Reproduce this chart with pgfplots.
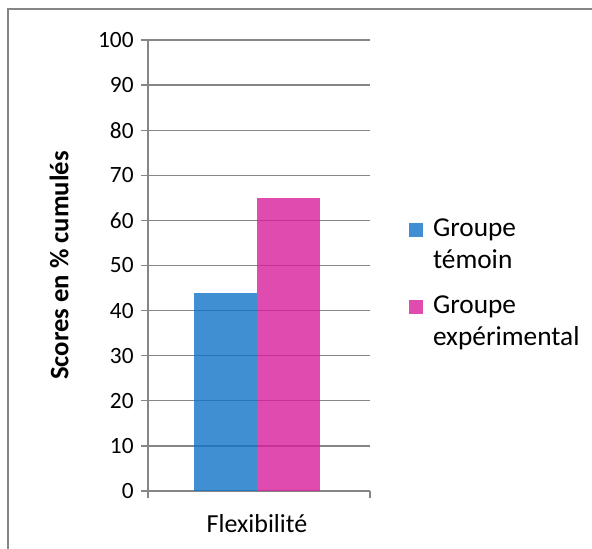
\documentclass[border=0pt]{standalone}
\usepackage{pgfplots}
\pgfplotsset{compat=1.18}
\usepackage{fontspec}
\setmainfont{Carlito}
\definecolor{gridgray}{RGB}{134,134,134}
\definecolor{barblue}{RGB}{15,115,199}
\definecolor{barpink}{RGB}{216,30,156}
\begin{document}
\begin{tikzpicture}
\useasboundingbox (0,0) rectangle (444pt,411.75pt);
\draw[gridgray, line width=1.1pt] (6pt,-10pt) -- (6pt,405pt) -- (460pt,405pt);
\begin{axis}[
  at={(111pt,43.5pt)}, anchor=south west,
  scale only axis, width=166.5pt, height=338.25pt,
  ybar=0pt, bar width=47.25pt,
  xmin=-0.982, xmax=1.018,
  ymin=0, ymax=100,
  ytick={0,10,...,100},
  xtick={-0.982,1.018}, xticklabels={},
  extra x ticks={0}, extra x tick labels={Flexibilité},
  extra x tick style={major tick length=0pt, grid=none,
     tick label style={anchor=base, yshift=-31pt, font=\fontsize{19.5}{22}\selectfont}},
  axis x line=bottom, axis y line=left,
  axis line style={gridgray, line width=1pt, -},
  tick style={gridgray, line width=1pt},
  tick align=outside, major tick length=5.25pt,
  ymajorgrids, grid style={gridgray, line width=1pt},
  /pgf/number format/assume math mode=true,
  tick label style={font=\fontsize{17.5}{20}\selectfont},
  yticklabel style={xshift=-2pt},
  ylabel={\bfseries Scores en \% cumulés},
  ylabel style={font=\fontsize{20}{22}\selectfont, at={(axis description cs:-0.40,0.5)}, anchor=center},
  legend style={draw=none, fill=none, at={(1.176,0.61)}, anchor=north west,
     inner sep=0pt, column sep=5.25pt, row sep=39pt,
     font=\fontsize{20.5}{24}\selectfont,
     cells={anchor=base west, inner sep=0pt}},
  legend image code/.code={\fill[#1] (0pt,0pt) rectangle (10.5pt,10.5pt);},
]
\addplot[fill=barblue, draw=none, fill opacity=0.8] coordinates {(0,43.8)};
\addplot[fill=barpink, draw=none, fill opacity=0.8] coordinates {(0,65)};
\legend{{\vtop{\hbox{Groupe}\hbox{témoin}}},{\vtop{\hbox{Groupe}\hbox{expérimental}}}}
\end{axis}
\end{tikzpicture}
\end{document}
